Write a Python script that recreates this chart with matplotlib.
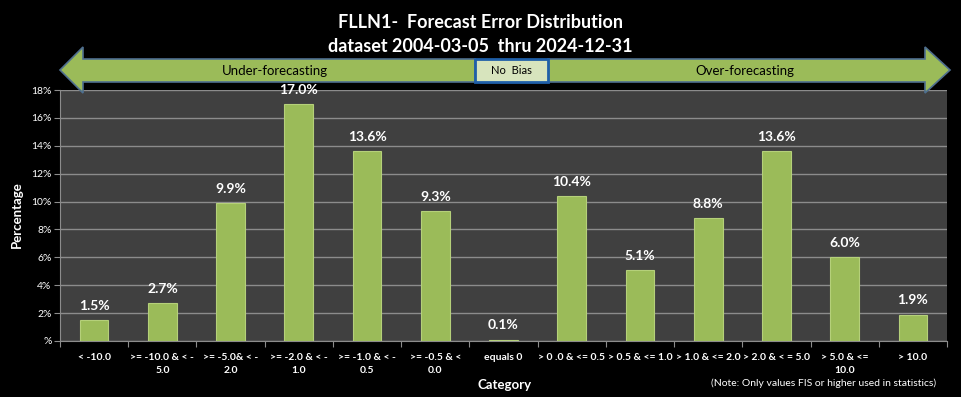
import matplotlib
matplotlib.use("Agg")
import matplotlib.pyplot as plt
from matplotlib.patches import Polygon, Rectangle
import numpy as np

categories = ["< -10.0", ">= -10.0 & < -\n5.0", ">= -5.0& < -\n2.0", ">= -2.0 & < -\n1.0",
              ">= -1.0 & < -\n0.5", ">= -0.5 & <\n0.0", "equals 0", "> 0 .0 & <= 0.5",
              "> 0.5 & <= 1.0", "> 1.0 & <= 2.0", "> 2.0 & < = 5.0", "> 5.0 & <=\n10.0", "> 10.0"]
values = [1.5, 2.7, 9.9, 17.0, 13.6, 9.3, 0.1, 10.4, 5.1, 8.8, 13.6, 6.0, 1.9]
ytick_labels = ["%", "2%", "4%", "6%", "8%", "10%", "12%", "14%", "16%", "18%"]

plt.rcParams['font.family'] = ['Lato', 'DejaVu Sans']

W, H = 961, 397
fig = plt.figure(figsize=(W / 100, H / 100), dpi=100, facecolor="black")

ax = fig.add_axes([60 / W, 1 - 341 / H, (947 - 60) / W, (341 - 90) / H])
ax.set_facecolor("#404040")
x = np.arange(len(categories))
ax.bar(x, values, width=0.42, color="#9BBB59", edgecolor="#B5D07A", linewidth=0.8, zorder=3)
for xi, v in zip(x, values):
    ax.annotate(f"{v:.1f}%", (xi, v), xytext=(0, 6), textcoords="offset points",
                ha="center", va="bottom", color="white", fontsize=10, fontweight="bold")
ax.set_xlim(-0.5, len(categories) - 0.5)
ax.set_ylim(0, 18)
ax.set_yticks(np.arange(0, 19, 2))
ax.set_yticklabels(ytick_labels, color="white", fontsize=7.5)
ax.yaxis.grid(True, color="#8c8c8c", linewidth=1, zorder=0)
ax.set_axisbelow(True)
ax.set_xticks(np.arange(-0.5, len(categories), 1))
ax.set_xticklabels([])
ax.set_xticks(x, minor=True)
ax.set_xticklabels(categories, minor=True, color="white", fontsize=7.5, fontweight="bold",
                   linespacing=1.5)
ax.tick_params(axis="x", which="minor", length=0, pad=9)
ax.tick_params(axis="x", which="major", length=4, color="#8c8c8c")
ax.tick_params(axis="y", length=4, color="#8c8c8c", pad=2)
for s in ["top", "right"]:
    ax.spines[s].set_visible(False)
for s in ["left", "bottom"]:
    ax.spines[s].set_color("#8c8c8c")

fig.text(505 / W, 1 - 385 / H, "Category", color="white", fontsize=9.5, fontweight="bold",
         ha="center", va="center")
fig.text(17 / W, 1 - 215 / H, "Percentage", color="white", fontsize=9.5, fontweight="bold",
         ha="center", va="center", rotation=90)
fig.text(936 / W, 1 - 383 / H, "(Note: Only values FIS or higher used in statistics)",
         color="white", fontsize=7.5, ha="right", va="center")
fig.text(480 / W, 1 - 22 / H, "FLLN1-  Forecast Error Distribution", color="white",
         fontsize=13, fontweight="bold", ha="center", va="center")
fig.text(480 / W, 1 - 47 / H, "dataset 2004-03-05  thru 2024-12-31", color="white",
         fontsize=13, fontweight="bold", ha="center", va="center")

# arrow banner (figure pixel coords)
def P(px, py):
    return (px / W, 1 - py / H)

left = [P(60, 70), P(83, 47), P(83, 59), P(475, 59), P(475, 82), P(83, 82), P(83, 93)]
right = [P(950, 70), P(925, 47), P(925, 59), P(548, 59), P(548, 82), P(925, 82), P(925, 93)]
for pts in (left, right):
    fig.patches.append(Polygon(pts, closed=True, transform=fig.transFigure,
                               facecolor="#9BBB59", edgecolor="#4F6F8F", linewidth=1.2))
fig.patches.append(Rectangle(P(475, 82), 73 / W, 23 / H, transform=fig.transFigure,
                             facecolor="#D7E4BD", edgecolor="#1F5FA8", linewidth=2))
fig.text(275 / W, 1 - 71 / H, "Under-forecasting", color="black", fontsize=9.5, ha="center", va="center")
fig.text(745 / W, 1 - 71 / H, "Over-forecasting", color="black", fontsize=9.5, ha="center", va="center")
fig.text(511 / W, 1 - 71 / H, "No  Bias", color="black", fontsize=8, ha="center", va="center")

fig.savefig("out.png", dpi=100, facecolor="black")
